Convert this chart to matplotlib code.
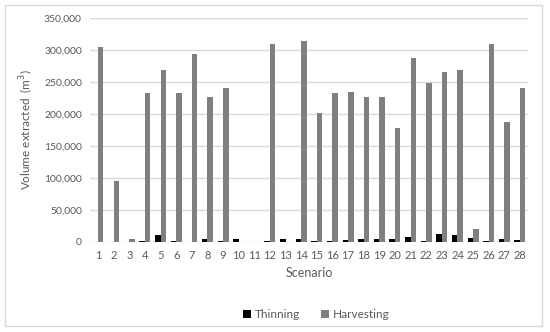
import numpy as np
import matplotlib.pyplot as plt
from matplotlib.patches import Rectangle

plt.rcParams['font.family'] = ['Lato', 'DejaVu Sans']

escenarios = [str(i) for i in range(1, 29)]
# volumen extraido (m3)
thinning = [0, 0, 0, 2000, 11000, 2000, 0, 5000, 2000, 4000, 0, 2000, 4000, 5000,
            2000, 2000, 3000, 5000, 5000, 5000, 8000, 1000, 12000, 11000, 6000, 2000, 5000, 3000]
harvesting = [305000, 95000, 5000, 233000, 268000, 233000, 294000, 227000, 240000, 0,
              0, 309000, 0, 314000, 202000, 233000, 235000, 227000, 227000, 178000,
              288000, 248000, 266000, 268000, 21000, 309000, 188000, 240000]

gris_texto = '#595959'

fig = plt.figure(figsize=(5.5, 3.32), dpi=100)
ax = fig.add_axes([0.164, 0.2711, 0.7956, 0.6747])

x = np.arange(len(escenarios))
w = 0.35
ax.bar(x - w/2, thinning, w, color='black', label='Thinning', zorder=3)
ax.bar(x + w/2, harvesting, w, color='#7f7f7f', label='Harvesting', zorder=3)

ax.set_xlim(-0.5, len(escenarios) - 0.5)
ax.set_ylim(0, 350000)
ax.set_yticks(np.arange(0, 350001, 50000))
ax.yaxis.set_major_formatter(plt.FuncFormatter(lambda v, p: f'{int(v):,}'))
ax.set_xticks(x)
ax.set_xticklabels(escenarios)
ax.grid(axis='y', color='#d9d9d9', linewidth=1, zorder=0)
for s in ax.spines.values():
    s.set_visible(False)
ax.tick_params(axis='y', length=0, labelsize=7.5, colors=gris_texto, pad=6)
ax.tick_params(axis='x', length=0, labelsize=8, colors=gris_texto, pad=6)

ax.set_xlabel('Scenario', fontsize=9, color=gris_texto, labelpad=4)
ax.set_ylabel('Volume extracted  (m$^3$)', fontsize=8.5, color=gris_texto, labelpad=6)

leg = fig.legend(loc='center', bbox_to_anchor=(0.575, 0.053), ncol=2, frameon=False,
                 fontsize=8.5, handlelength=0.7, handleheight=0.7, columnspacing=1.8,
                 handletextpad=0.3)
for t in leg.get_texts():
    t.set_color(gris_texto)

# marco del grafico
fig.patches.append(Rectangle((5/550, 6/332), 537/550, 321/332, transform=fig.transFigure,
                             fill=False, edgecolor='#d9d9d9', linewidth=1))

fig.savefig('out.png', dpi=100)
